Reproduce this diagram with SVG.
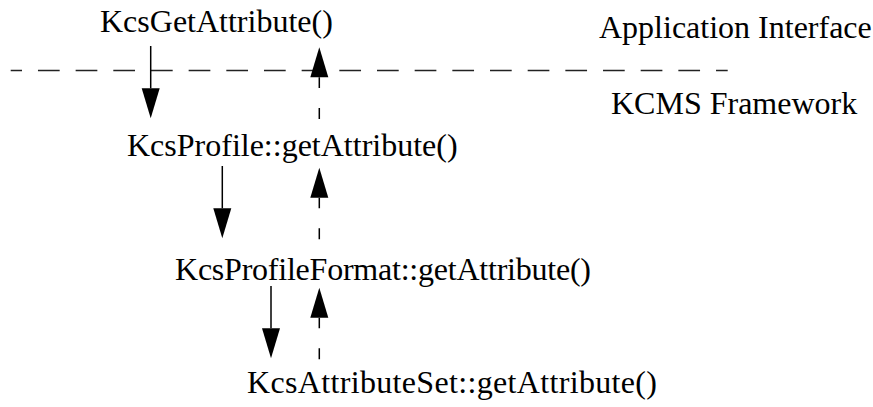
<svg xmlns="http://www.w3.org/2000/svg" width="873" height="407" viewBox="0 0 873 407">
<style>
text{font-family:"Liberation Serif","Times New Roman",serif;font-size:32px;fill:#000}
.call{stroke:#000;stroke-width:1.5;fill:none}
.ret{stroke:#000;stroke-width:1.5;fill:none;stroke-dasharray:11 20}
.sep{stroke:#222;stroke-width:1.5;fill:none;stroke-dasharray:21.7 15.97;stroke-dashoffset:10.4}
</style>
<defs>
<marker id="ah" markerUnits="userSpaceOnUse" markerWidth="31" markerHeight="18" refX="0" refY="9" orient="auto" overflow="visible">
<path d="M0,0 L30,9 L0,18 z" fill="#000"/>
</marker>
</defs>
<rect width="873" height="407" fill="#fff"/>
<g id="boundary">
<line class="sep" x1="10.7" y1="70.5" x2="727.7" y2="70.5"/>
<text x="599" y="38">Application Interface</text>
<text x="611" y="114">KCMS Framework</text>
</g>
<g id="n-kcsgetattribute"><text x="100" y="32">KcsGetAttribute()</text></g>
<g id="n-kcsprofile"><text x="127" y="156">KcsProfile::getAttribute()</text></g>
<g id="n-kcsprofileformat"><text x="175" y="280" textLength="416" lengthAdjust="spacing">KcsProfileFormat::getAttribute()</text></g>
<g id="n-kcsattributeset"><text x="247" y="393" textLength="410" lengthAdjust="spacing">KcsAttributeSet::getAttribute()</text></g>
<g id="connectors">
<path class="call" d="M150.7,46 V88.3" marker-end="url(#ah)"/>
<path class="ret" d="M319.3,119 V77.3" marker-end="url(#ah)"/>
<path class="call" d="M222.3,166 V208.3" marker-end="url(#ah)"/>
<path class="ret" d="M319.3,239.3 V197.7" marker-end="url(#ah)"/>
<path class="call" d="M271,286 V328.3" marker-end="url(#ah)"/>
<path class="ret" d="M319.3,359.3 V317.7" marker-end="url(#ah)"/>
</g>
</svg>
